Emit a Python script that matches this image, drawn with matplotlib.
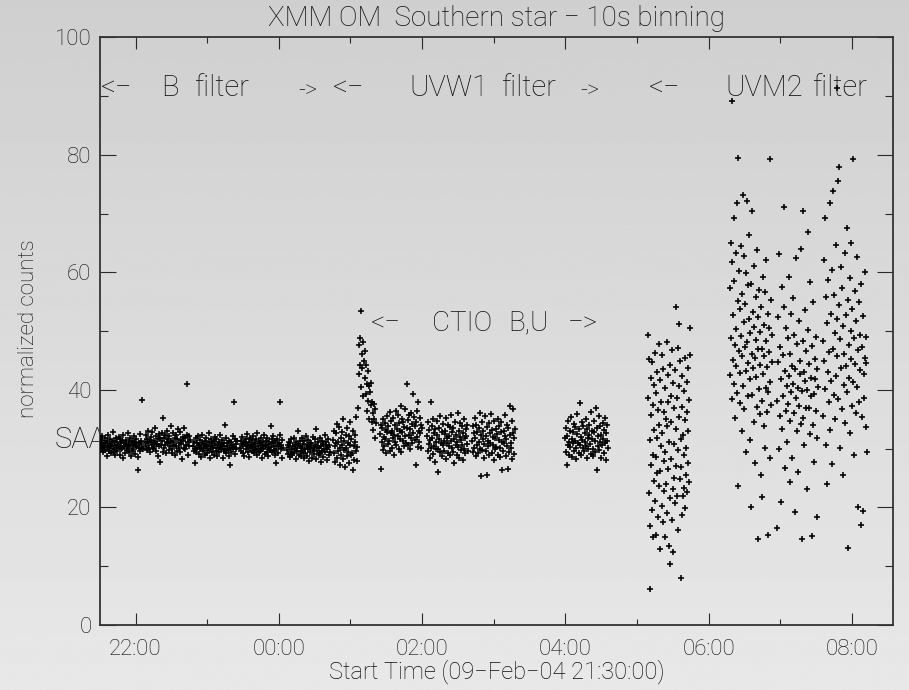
import numpy as np
import matplotlib
matplotlib.use("Agg")
import matplotlib.pyplot as plt

# ---------------- data ----------------
# exposure blocks: start / end time in hours after 09-Feb-04 21:30:00
block_start = [0.004, 0.632, 1.302, 1.960, 2.614, 3.256, 3.912, 4.568, 5.196, 6.494,
               7.653, 8.797, 9.453, 10.095]
block_end = [0.604, 1.260, 1.916, 2.558, 3.214, 3.856, 4.498, 5.140, 5.796, 7.094,
             8.239, 9.383, 10.025, 10.709]

# normalized counts (10 s bins) for each block
b_filter_1 = [30.8, 31.5, 29.9, 30.2, 32.1, 30.6, 29.4, 31.0, 30.3, 31.8, 29.8, 30.9, 28.7, 31.3, 30.5, 32.4,
              29.6, 30.1, 31.7, 30.8, 29.2, 30.4, 31.1, 32.8, 30.0, 29.5, 31.4, 30.7, 28.9, 31.9, 30.2, 31.2,
              29.7, 30.6, 32.0, 30.3, 29.0, 31.6, 30.9, 29.9, 31.3, 30.1, 28.4, 32.3, 30.5, 31.0, 29.3, 30.8,
              31.5, 30.2, 29.8, 32.6, 30.4, 31.1, 29.5, 30.7, 31.8, 28.8, 30.0, 31.4, 30.6, 29.6, 32.2, 30.9,
              31.2, 29.1, 30.3, 31.7, 30.5, 28.6, 26.4, 31.0, 30.1, 32.5, 29.7, 30.8, 31.3, 38.3, 30.2, 29.9]
b_filter_2 = [31.2, 30.5, 32.3, 29.8, 31.7, 30.9, 33.1, 30.2, 31.5, 29.4, 32.0, 31.1, 30.6, 32.8, 29.9, 31.4,
              30.3, 33.5, 31.0, 29.6, 32.2, 30.8, 31.6, 28.7, 32.5, 30.4, 31.9, 27.7, 30.7, 32.7, 31.3, 29.5,
              35.2, 30.1, 31.8, 32.4, 30.6, 29.2, 31.2, 33.0, 30.9, 31.6, 29.8, 32.1, 30.4, 31.4, 33.8, 30.0,
              29.3, 32.6, 31.1, 30.7, 31.9, 28.9, 32.3, 30.5, 31.7, 29.7, 33.3, 30.2, 31.0, 32.9, 29.5, 31.5,
              30.8, 28.3, 32.0, 31.3, 30.1, 33.6, 29.9, 31.8, 30.6, 32.4, 41.0, 31.2, 29.0, 30.4, 32.2, 31.5]
b_filter_3 = [30.5, 29.7, 31.2, 30.0, 27.6, 31.8, 29.4, 30.9, 30.2, 32.1, 29.1, 30.6, 31.5, 29.9, 30.3, 28.6,
              31.0, 32.4, 29.6, 30.8, 30.1, 31.4, 28.9, 30.4, 31.9, 29.3, 30.7, 29.8, 31.1, 32.6, 30.0, 28.4,
              30.5, 31.6, 29.5, 30.9, 30.2, 31.3, 29.0, 32.0, 30.6, 29.7, 31.7, 30.1, 28.8, 30.8, 31.2, 29.4,
              30.3, 32.3, 29.9, 30.7, 31.5, 28.5, 30.4, 29.6, 31.0, 30.0, 34.0, 29.2, 31.8, 30.5, 29.8, 30.9,
              31.4, 28.7, 30.2, 27.3, 31.1, 29.5, 30.6, 32.2, 29.9, 30.3, 38.0, 31.6, 29.1, 30.8, 30.0, 31.3]
b_filter_4 = [30.2, 31.4, 29.6, 30.8, 32.0, 29.3, 30.5, 31.1, 28.8, 30.9, 31.7, 29.9, 30.4, 32.5, 29.5, 30.7,
              31.2, 28.6, 30.1, 31.9, 30.6, 29.7, 31.5, 30.3, 32.2, 29.2, 30.8, 31.0, 29.8, 31.6, 30.0, 28.9,
              32.7, 30.5, 29.4, 31.3, 30.9, 29.6, 30.2, 31.8, 28.5, 30.6, 31.1, 29.9, 32.4, 30.4, 29.1, 31.4,
              30.7, 29.5, 31.9, 30.1, 28.7, 30.8, 31.2, 29.8, 33.8, 30.3, 31.6, 29.4, 30.9, 32.1, 29.7, 30.5,
              31.3, 28.9, 30.0, 27.5, 31.7, 30.6, 29.3, 31.0, 30.4, 32.3, 38.0, 29.9, 30.7, 28.4, 31.5, 30.2]
b_filter_5 = [29.8, 30.6, 29.1, 31.2, 30.3, 28.6, 30.9, 29.5, 31.6, 30.0, 28.9, 30.4, 31.8, 29.3, 30.7, 29.9,
              28.2, 31.1, 30.2, 29.6, 33.0, 30.8, 29.0, 31.4, 30.5, 28.7, 29.7, 31.9, 30.1, 29.4, 30.8, 28.4,
              31.3, 30.0, 29.2, 32.2, 30.6, 28.8, 29.9, 31.5, 30.3, 27.9, 30.9, 29.5, 31.0, 30.4, 28.5, 29.8,
              32.0, 30.2, 29.1, 31.7, 30.7, 28.3, 33.4, 29.6, 30.5, 31.2, 28.9, 30.1, 29.3, 31.8, 30.4, 27.8,
              29.7, 31.4, 30.8, 28.6, 30.0, 32.4, 29.4, 30.6, 31.1, 28.1, 29.9, 30.3, 31.6, 29.0, 30.7, 29.5]
uvw1_1 = [31.5, 29.2, 33.1, 30.4, 27.8, 32.6, 30.9, 28.5, 34.2, 31.2, 29.6, 33.7, 30.1, 27.3, 31.9, 29.0,
          32.8, 30.6, 28.2, 35.0, 31.4, 29.8, 26.9, 32.3, 30.2, 28.7, 33.5, 31.0, 29.4, 27.6, 32.1, 30.7,
          34.6, 28.9, 31.7, 29.3, 26.4, 33.0, 30.5, 28.1, 32.4, 31.1, 29.7, 35.4, 27.9, 30.3,
          36.9, 42.8, 47.6, 44.3, 48.9, 40.5, 53.4, 46.2, 43.7, 48.1, 38.9, 45.0, 42.1, 46.7, 39.4, 44.2,
          41.0, 36.5, 43.3, 38.2, 40.6, 35.1, 39.7, 37.4, 41.2, 34.6, 38.0, 36.1, 33.2, 37.6, 35.0, 31.9,
          36.8, 34.3]
uvw1_2 = [32.5, 26.6, 34.1, 31.2, 33.6, 29.8, 35.0, 32.0, 30.5, 34.4, 31.7, 33.2, 29.2, 35.6, 32.9, 30.8,
          33.9, 31.4, 36.2, 29.6, 32.6, 34.7, 30.2, 33.1, 31.9, 35.3, 29.0, 32.3, 34.0, 31.1, 36.5, 30.6,
          33.4, 32.1, 35.8, 30.0, 34.3, 31.6, 33.0, 37.2, 29.4, 32.8, 35.1, 31.3, 34.6, 30.4, 33.7, 32.2,
          36.8, 31.0, 41.0, 33.5, 30.7, 34.9, 32.4, 35.7, 29.9, 33.3, 31.8, 36.0, 34.2, 30.9, 32.7, 39.3,
          35.4, 31.5, 33.8, 27.2, 34.5, 32.0, 36.4, 30.3, 38.0, 33.1, 31.2, 35.2, 32.6, 34.0, 30.1, 33.6]
uvw1_3 = [32.1, 29.6, 34.5, 30.8, 33.2, 28.4, 31.5, 38.0, 30.2, 33.8, 31.9, 29.1, 35.1, 32.6, 30.5, 27.8,
          33.4, 31.2, 29.9, 34.8, 32.3, 30.0, 26.0, 31.7, 33.6, 29.4, 35.6, 31.0, 32.8, 28.7, 30.6, 34.2,
          31.4, 29.7, 33.0, 32.5, 28.2, 35.3, 30.9, 31.8, 29.2, 34.0, 32.2, 30.4, 33.7, 28.9, 31.3, 35.8,
          30.1, 32.9, 29.5, 33.5, 31.6, 27.6, 34.6, 30.7, 32.4, 29.0, 31.1, 36.0, 30.3, 33.1, 28.5, 32.0,
          34.4, 29.8, 31.5, 33.9, 30.6, 28.1, 32.7, 35.0, 30.0, 31.8, 29.3, 33.3, 32.1, 30.8, 34.1, 29.6]
uvw1_4 = [31.4, 33.8, 29.5, 32.6, 30.1, 35.2, 31.9, 28.7, 34.0, 30.6, 32.9, 29.2, 33.5, 31.1, 36.1, 30.0,
          32.3, 25.4, 29.8, 34.6, 31.6, 33.0, 28.4, 30.8, 35.5, 32.1, 29.6, 33.7, 25.5, 31.3, 30.4, 34.3,
          28.9, 32.7, 31.0, 35.9, 29.3, 33.2, 30.7, 32.0, 28.1, 34.8, 31.8, 29.9, 33.4, 30.3, 32.5, 35.0,
          29.0, 31.5, 33.9, 30.2, 28.6, 32.8, 34.5, 26.4, 31.2, 29.7, 33.1, 30.9, 35.7, 32.2, 28.8, 31.7,
          34.1, 30.5, 26.6, 33.6, 29.4, 32.4, 37.3, 31.0, 30.1, 34.7, 28.3, 32.6, 36.8, 31.9, 29.1, 33.3]
uvw1_5 = [31.8, 29.4, 33.5, 27.2, 32.2, 30.6, 34.8, 31.1, 29.0, 33.0, 30.3, 35.4, 31.7, 28.6, 32.9, 30.9,
          34.2, 29.7, 31.4, 33.7, 30.1, 28.2, 32.5, 35.9, 31.0, 29.3, 33.3, 30.7, 37.8, 32.0, 28.9, 34.5,
          31.5, 30.2, 33.9, 29.6, 32.7, 31.2, 35.1, 30.4, 28.4, 33.4, 31.9, 29.9, 34.0, 32.4, 30.8, 36.3,
          29.1, 31.6, 33.1, 30.0, 28.8, 32.8, 34.7, 31.3, 29.5, 37.0, 26.3, 33.6, 30.5, 32.1, 35.6, 29.8,
          31.1, 33.8, 28.5, 32.3, 30.6, 34.4, 31.7, 29.2, 33.2, 30.9, 35.3, 32.6, 28.0, 31.4, 34.1, 30.2]
uvm2_1 = [49.4, 38.7, 22.4, 45.2, 31.5, 6.1, 16.8, 42.1, 27.3, 35.8, 19.6, 44.7, 29.0, 14.9, 37.4, 24.5,
          40.9, 33.2, 21.1, 46.3, 28.6, 15.3, 39.5, 25.8, 43.0, 31.9, 36.6, 18.4, 47.8, 23.7, 34.1, 41.7,
          26.2, 12.9, 38.0, 30.4, 20.3, 45.9, 32.7, 17.5, 43.6, 27.9, 36.2, 22.8, 40.3, 15.0, 29.5, 35.1,
          24.0, 48.2, 33.8, 19.0, 42.6, 26.6, 37.9, 13.5, 31.2, 10.4, 44.2, 21.6, 39.0, 28.3, 34.6, 17.9,
          46.8, 12.4, 23.1, 41.2, 30.8, 25.1, 36.9, 43.4, 20.7, 33.4, 54.1, 27.0, 38.6, 22.0, 47.1, 29.8,
          16.1, 40.6, 51.2, 35.4, 24.8, 44.9, 31.6, 26.9, 8.0, 42.3, 18.8, 37.1, 32.3, 21.9, 28.9, 39.8,
          23.4, 45.5, 34.9, 19.9, 30.1, 25.5, 41.4, 36.3, 22.6, 43.8, 33.0, 27.6, 38.3, 24.3, 46.0, 50.5]
uvm2_2 = [42.5, 57.3, 48.9, 65.0, 89.2, 38.4, 61.7, 45.1, 52.8, 69.3, 41.0, 58.6, 35.2, 47.7, 63.4, 50.3,
          44.0, 71.8, 39.5, 55.1, 79.4, 23.6, 46.6, 60.2, 37.8, 53.7, 42.9, 64.5, 49.2, 33.1, 56.4, 45.8,
          73.2, 40.6, 51.5, 62.8, 36.7, 47.4, 54.6, 29.4, 43.3, 59.9, 72.1, 48.1, 38.9, 57.8, 44.6, 52.0,
          66.3, 41.8, 31.5, 49.7, 58.1, 20.1, 46.2, 70.5, 39.2, 53.3, 43.7, 61.1, 34.5, 50.8, 45.4, 27.6,
          55.9, 42.2, 48.5, 37.1, 63.9, 14.6, 46.9, 52.4, 40.1, 57.0, 35.9, 49.9, 44.3, 25.6, 54.2, 38.1,
          21.8, 47.0, 59.3, 42.7, 33.8, 51.0, 45.7, 30.2, 56.7, 40.4, 48.4, 62.2, 36.3, 43.9, 53.0, 39.7,
          15.3, 46.4, 50.6, 28.5, 79.3, 41.3, 55.4, 37.5, 44.8, 49.3]
uvm2_3 = [16.5, 38.2, 52.4, 44.7, 29.9, 63.2, 35.6, 47.3, 21.0, 41.8, 57.5, 33.4, 45.9, 39.0, 54.1, 71.1,
          26.8, 43.2, 36.5, 50.6, 40.7, 31.2, 48.8, 37.7, 59.2, 42.4, 24.3, 46.1, 34.8, 52.9, 39.6, 44.0,
          28.4, 55.7, 41.1, 36.1, 49.4, 19.3, 43.6, 38.6, 62.4, 33.0, 47.9, 40.3, 26.1, 51.8, 37.2, 45.0,
          42.8, 34.2, 64.0, 39.9, 14.6, 48.3, 70.4, 35.3, 43.0, 30.6, 53.6, 41.5, 37.0, 46.7, 23.2, 40.0,
          50.2, 66.9, 36.9, 44.4, 32.5, 58.3, 38.9, 42.0, 15.1, 47.5, 34.0, 55.0, 39.3, 27.7, 45.3, 41.9,
          36.4, 49.0, 31.8, 43.5, 18.4, 40.5]
uvm2_4 = [48.3, 35.6, 62.1, 44.9, 69.3, 40.2, 55.8, 30.7, 24.0, 51.4, 43.1, 58.7, 37.9, 46.5, 71.8, 33.2,
          53.0, 41.6, 60.4, 27.4, 73.8, 47.0, 39.1, 56.2, 49.7, 35.0, 64.6, 42.3, 52.1, 91.4, 45.8, 75.6,
          38.4, 78.0, 54.5, 30.1, 48.6, 61.0, 43.7, 36.8, 57.4, 50.9, 25.5, 46.2, 40.8, 63.3, 34.3, 52.7,
          44.1, 67.5, 39.6, 55.3, 13.1, 47.6, 42.0, 59.1, 32.6, 50.0, 45.2, 65.0, 37.3, 53.8, 79.3, 41.3,
          48.9, 28.9, 56.8, 44.4, 36.1, 51.7, 62.7, 40.5, 46.8, 20.0, 54.9, 38.0, 49.4, 43.4, 58.0, 17.1,
          35.4, 47.3, 19.4, 52.6, 42.7, 38.7, 45.5, 60.0, 33.7, 49.1, 44.6, 29.5]

block_values = [b_filter_1, b_filter_2, b_filter_3, b_filter_4, b_filter_5,
                uvw1_1, uvw1_2, uvw1_3, uvw1_4, uvw1_5,
                uvm2_1, uvm2_2, uvm2_3, uvm2_4]

xtick_pos = [0.5, 2.5, 4.5, 6.5, 8.5, 10.5]
xtick_labels = ["22:00", "00:00", "02:00", "04:00", "06:00", "08:00"]
xminor_pos = [1.5, 3.5, 5.5, 7.5, 9.5]
ytick_pos = [0, 20, 40, 60, 80, 100]
ytick_labels = ["0", "20", "40", "60", "80", "100"]
yminor_pos = [10, 30, 50, 70, 90]

title = "XMM OM  Southern star \u2212 10s binning"
xlabel = "Start Time (09\u2212Feb\u221204 21:30:00)"
ylabel = "normalized counts"

# annotation words: (text, x [h], y [counts], fontsize)
annotations = [
    ("<\u2212", 0.018, 91.4, 21), ("B", 0.856, 91.4, 21), ("filter", 1.316, 91.4, 21),
    ("->", 2.768, 91.0, 17), ("<\u2212", 3.256, 91.4, 21), ("UVW1", 4.317, 91.4, 21),
    ("filter", 5.601, 91.4, 21), ("->", 6.704, 91.0, 17), ("<\u2212", 7.666, 91.4, 21),
    ("UVM2", 8.727, 91.4, 21), ("filter", 9.941, 91.4, 21),
    ("<\u2212", 3.786, 51.4, 20), ("CTIO", 4.638, 51.4, 20), ("B,U", 5.699, 51.4, 20),
    ("\u2212>", 6.536, 51.4, 20),
    ("SAA", -0.624, 31.5, 21),
]

# ---------------- drawing ----------------
FONT = "Roboto"
WEIGHT = "light"
TXT = "#0e0e0e"
fig = plt.figure(figsize=(9.09, 6.90), dpi=100)

bg = fig.add_axes([0, 0, 1, 1], zorder=0)
grad = np.linspace(0.812, 0.91, 256).reshape(-1, 1)
bg.imshow(grad, aspect="auto", cmap="gray", vmin=0, vmax=1, extent=[0, 1, 0, 1])
bg.set_axis_off()

ax = fig.add_axes([0.1097, 0.0942, 0.8725, 0.8515], zorder=1)
ax.patch.set_alpha(0)

for t0, t1, vals in zip(block_start, block_end, block_values):
    t = np.linspace(t0, t1, len(vals))
    ax.plot(t, vals, linestyle="none", marker="+", ms=4.6, mew=1.15, color="black", zorder=3)

for txt, xx, yy, fs in annotations:
    ax.text(xx, yy, txt, ha="left", va="center", fontsize=fs, color=TXT,
            family=FONT, fontweight=WEIGHT, clip_on=False, zorder=2)

ax.set_xlim(0, 11.07)
ax.set_ylim(0, 100)
ax.set_xticks(xtick_pos)
ax.set_xticklabels(xtick_labels)
ax.set_xticks(xminor_pos, minor=True)
ax.set_yticks(ytick_pos)
ax.set_yticklabels(ytick_labels)
ax.set_yticks(yminor_pos, minor=True)

ax.tick_params(which="both", direction="in", top=True, right=True, color="#2a2a2a", width=0.8)
ax.tick_params(axis="x", which="major", length=8.4, pad=10)
ax.tick_params(axis="x", which="minor", length=4.2)
ax.tick_params(axis="y", which="major", length=11.4, pad=6)
ax.tick_params(axis="y", which="minor", length=5.7)
for lab in ax.get_xticklabels() + ax.get_yticklabels():
    lab.set_fontfamily(FONT)
    lab.set_fontweight(WEIGHT)
    lab.set_fontsize(16)
    lab.set_color(TXT)
for sp in ax.spines.values():
    sp.set_color("#333333")
    sp.set_linewidth(1.3)

fig.text(497 / 909, 1 - 19 / 690, title, ha="center", va="center", fontsize=20,
         family=FONT, fontweight=WEIGHT, color=TXT)
fig.text(497 / 909, 1 - 672 / 690, xlabel, ha="center", va="center", fontsize=17,
         family=FONT, fontweight=WEIGHT, color=TXT)
fig.text(29 / 909, 1 - 329 / 690, ylabel, ha="center", va="center", rotation=90, fontsize=16,
         family=FONT, fontweight=WEIGHT, color=TXT)

fig.savefig("out.png", dpi=100)
